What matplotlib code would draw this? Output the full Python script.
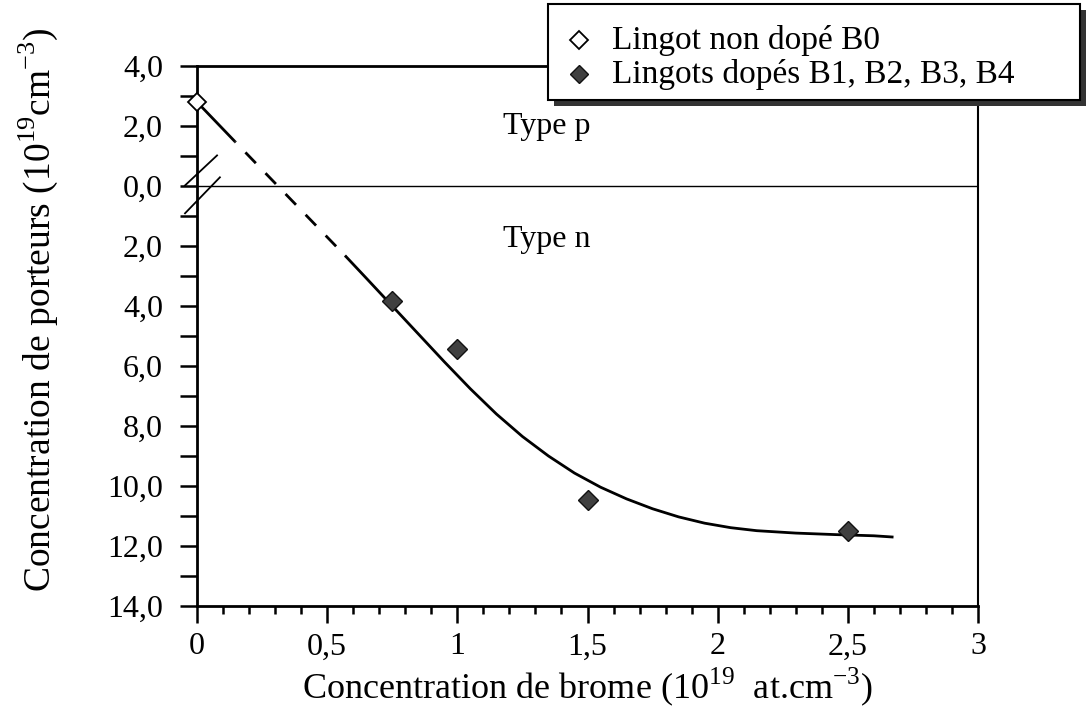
# Concentration de porteurs en fonction de la concentration de brome

import numpy as np
import matplotlib.pyplot as plt
from matplotlib.patches import Rectangle
from matplotlib.lines import Line2D

plt.rcParams['font.family'] = ['Liberation Serif', 'DejaVu Serif']
plt.rcParams['mathtext.fontset'] = 'custom'
plt.rcParams['mathtext.rm'] = 'Liberation Serif'

# lingot non dopé (type p, valeur positive)
x_b0 = [0.0]
y_b0 = [2.8]

# lingots dopés B1..B4 (type n, valeurs négatives)
x_dop = [0.75, 1.0, 1.5, 2.5]
y_dop = [-3.83, -5.42, -10.47, -11.5]

# tendance : partie extrapolée (tirets) puis courbe pleine
x_ext = [0.0, 0.146, 0.572]
y_ext = [2.8, 1.48, -2.35]
x_fit = [0.572, 0.65, 0.75, 0.85, 0.95, 1.05, 1.15, 1.25, 1.35, 1.45, 1.55,
         1.65, 1.75, 1.85, 1.95, 2.05, 2.15, 2.3, 2.45, 2.6, 2.67]
y_fit = [-2.35, -3.07, -4.0, -4.93, -5.86, -6.76, -7.6, -8.35, -9.0, -9.57, -10.04,
         -10.43, -10.76, -11.03, -11.24, -11.39, -11.49, -11.57, -11.62, -11.66, -11.7]

xticks = [0, 0.5, 1, 1.5, 2, 2.5, 3]
xlabels = ['0', '0,5', '1', '1,5', '2', '2,5', '3']
yticks = [4, 2, 0, -2, -4, -6, -8, -10, -12, -14]
ylabels = ['4,0', '2,0', '0,0', '2,0', '4,0', '6,0', '8,0', '10,0', '12,0', '14,0']

fig = plt.figure(figsize=(10.89, 7.13), dpi=100)
ax = fig.add_axes([0.1809, 0.1501, 0.7172, 0.7573])

ax.plot(x_ext[:2], y_ext[:2], color='black', lw=2.0, solid_capstyle='butt')
ax.plot(x_ext[1:], y_ext[1:], color='black', lw=2.0, linestyle=(5.0, (5.4, 5.0)), dash_capstyle='butt')
ax.plot(x_fit, y_fit, color='black', lw=2.0)

ax.axhline(0, color='black', lw=1.0)

ax.plot(x_b0, y_b0, linestyle='none', marker='D', markersize=9,
        markerfacecolor='white', markeredgecolor='black', markeredgewidth=1.3, clip_on=False, zorder=5)
ax.plot(x_dop, y_dop, linestyle='none', marker='D', markersize=10,
        markerfacecolor='#404040', markeredgecolor='#111111', markeredgewidth=1.0, zorder=5)

ax.set_xlim(0, 3)
ax.set_ylim(-14, 4)
ax.set_xticks(xticks)
ax.set_xticklabels(xlabels)
ax.set_xticks(np.arange(0, 3.01, 0.1), minor=True)
ax.set_yticks(yticks)
ax.set_yticklabels(ylabels)
ax.set_yticks(np.arange(-14, 4.01, 1), minor=True)

ax.tick_params(axis='both', which='both', direction='out', width=1.8, labelsize=23)
ax.tick_params(axis='x', which='major', length=12, pad=7)
ax.tick_params(axis='x', which='minor', length=6)
ax.tick_params(axis='y', which='both', length=12.5, pad=12)

for side in ['left', 'bottom', 'top']:
    ax.spines[side].set_linewidth(2.0)
ax.spines['right'].set_linewidth(1.5)

# coupure de l'axe autour de zéro
ax.plot([-0.046, 0.077], [0.02, 1.02], color='black', lw=1.3, clip_on=False)
ax.plot([-0.046, 0.088], [-0.91, 0.29], color='black', lw=1.3, clip_on=False)

ax.text(1.175, 2.0, 'Type p', fontsize=23, ha='left', va='center')
ax.text(1.175, -1.78, 'Type n', fontsize=23, ha='left', va='center')

ax.set_xlabel(r'Concentration de brome (10$^{\mathrm{19}}$  at.cm$^{\mathrm{-3}}$)', fontsize=26, labelpad=3)
ax.set_ylabel(r'Concentration de porteurs (10$^{\mathrm{19}}$cm$^{\mathrm{-3}}$)', fontsize=27)
ax.yaxis.set_label_coords(-0.1754, 0.549)

# légende encadrée avec ombre
W, H = 1089.0, 713.0
x0, x1, yt, yb = 548 / W, 1080 / W, 1 - 4 / H, 1 - 100 / H
fig.add_artist(Rectangle((x0 + 6 / W, yb - 6 / H), x1 - x0, yt - yb, transform=fig.transFigure,
                         facecolor='#333333', edgecolor='none', zorder=10))
fig.add_artist(Rectangle((x0, yb), x1 - x0, yt - yb, transform=fig.transFigure,
                         facecolor='white', edgecolor='black', lw=1.5, zorder=11))
fig.add_artist(Line2D([579 / W], [1 - 40 / H], transform=fig.transFigure, marker='D', markersize=9,
                      markerfacecolor='white', markeredgecolor='black', markeredgewidth=1.3, zorder=12))
fig.add_artist(Line2D([579 / W], [1 - 74 / H], transform=fig.transFigure, marker='D', markersize=9,
                      markerfacecolor='#404040', markeredgecolor='#111111', zorder=12))
fig.text(612 / W, 1 - 40 / H, 'Lingot non dopé B0', fontsize=24, ha='left', va='center', zorder=12)
fig.text(612 / W, 1 - 74 / H, 'Lingots dopés B1, B2, B3, B4', fontsize=24, ha='left', va='center', zorder=12)

plt.savefig('out.png', dpi=100)
